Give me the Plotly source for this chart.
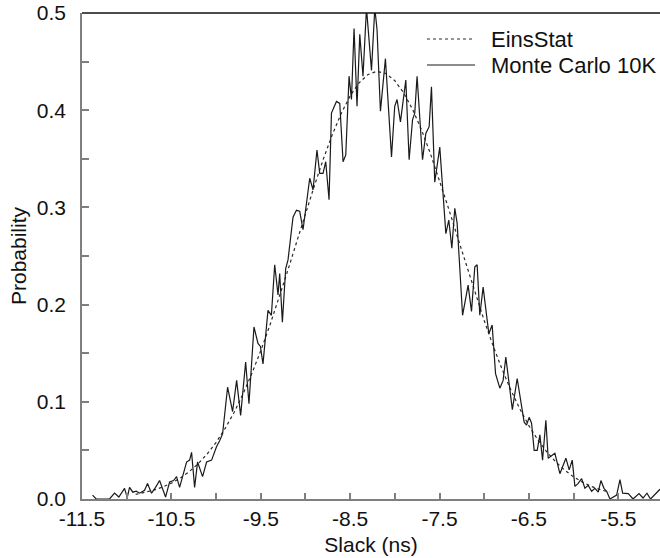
import plotly.graph_objects as go

# EinsStat (analytical) curve
eins_slack = [-10.9, -10.8, -10.7, -10.6, -10.5, -10.4, -10.3, -10.2, -10.1, -10.0,
              -9.9, -9.8, -9.7, -9.6, -9.5, -9.4, -9.3, -9.2, -9.1, -9.0,
              -8.9, -8.8, -8.7, -8.6, -8.5, -8.4, -8.3, -8.2, -8.1, -8.0,
              -7.9, -7.8, -7.7, -7.6, -7.5, -7.4, -7.3, -7.2, -7.1, -7.0,
              -6.9, -6.8, -6.7, -6.6, -6.5, -6.4, -6.3, -6.2, -6.1, -6.0,
              -5.9, -5.8, -5.7, -5.6]
eins_prob = [0.0047, 0.0066, 0.0090, 0.0122, 0.0163, 0.0216, 0.0282, 0.0363, 0.0463, 0.0582,
             0.0724, 0.0888, 0.1077, 0.1290, 0.1525, 0.1782, 0.2057, 0.2344, 0.2639, 0.2935,
             0.3223, 0.3497, 0.3747, 0.3966, 0.4147, 0.4282, 0.4367, 0.4400, 0.4378, 0.4303,
             0.4177, 0.4006, 0.3794, 0.3549, 0.3280, 0.2993, 0.2699, 0.2403, 0.2113, 0.1836,
             0.1575, 0.1335, 0.1118, 0.0924, 0.0755, 0.0609, 0.0485, 0.0382, 0.0297, 0.0228,
             0.0173, 0.0129, 0.0096, 0.0070]

# Monte Carlo 10K histogram
mc_slack = [-11.382, -11.341, -11.192, -11.136, -11.088, -11.024, -10.994, -10.968, -10.931, -10.893,
            -10.856, -10.800, -10.767, -10.722, -10.677, -10.632, -10.565, -10.520, -10.475, -10.442,
            -10.408, -10.375, -10.330, -10.296, -10.274, -10.240, -10.207, -10.151, -10.106, -10.050,
            -9.994, -9.960, -9.927, -9.871, -9.815, -9.770, -9.725, -9.669, -9.632, -9.576,
            -9.531, -9.504, -9.475, -9.419, -9.381, -9.344, -9.307, -9.288, -9.258, -9.221,
            -9.195, -9.139, -9.101, -9.064, -9.027, -8.952, -8.915, -8.871, -8.840, -8.803,
            -8.773, -8.736, -8.709, -8.653, -8.616, -8.579, -8.549, -8.512, -8.485, -8.456,
            -8.423, -8.392, -8.356, -8.317, -8.261, -8.224, -8.199, -8.161, -8.105, -8.037,
            -8.001, -7.975, -7.937, -7.877, -7.840, -7.802, -7.777, -7.751, -7.690, -7.653,
            -7.616, -7.590, -7.553, -7.497, -7.429, -7.396, -7.362, -7.329, -7.303, -7.242,
            -7.180, -7.142, -7.105, -7.079, -7.049, -7.012, -6.948, -6.911, -6.873, -6.825,
            -6.788, -6.758, -6.685, -6.631, -6.582, -6.553, -6.526, -6.497, -6.470, -6.441,
            -6.407, -6.377, -6.347, -6.310, -6.284, -6.246, -6.209, -6.153, -6.116, -6.086,
            -6.049, -6.015, -5.985, -5.948, -5.910, -5.873, -5.836, -5.798, -5.761, -5.724,
            -5.694, -5.660, -5.630, -5.593, -5.518, -5.481, -5.451, -5.388, -5.335, -5.268,
            -5.223, -5.179, -5.139, -5.078, -5.033]
mc_prob = [0.004, 0.000, 0.000, 0.006, 0.002, 0.011, 0.0014, 0.012, 0.007, 0.008,
           0.006, 0.009, 0.016, 0.006, 0.012, 0.019, 0.002, 0.0175, 0.019, 0.023,
           0.012, 0.024, 0.038, 0.040, 0.048, 0.012, 0.038, 0.023, 0.038, 0.040,
           0.054, 0.060, 0.067, 0.115, 0.090, 0.122, 0.086, 0.141, 0.098, 0.177,
           0.160, 0.157, 0.139, 0.194, 0.189, 0.241, 0.210, 0.232, 0.182, 0.237,
           0.246, 0.290, 0.297, 0.296, 0.277, 0.330, 0.318, 0.359, 0.335, 0.335,
           0.347, 0.308, 0.397, 0.409, 0.407, 0.347, 0.354, 0.435, 0.411, 0.484,
           0.404, 0.478, 0.435, 0.505, 0.441, 0.505, 0.483, 0.399, 0.453, 0.352,
           0.404, 0.411, 0.388, 0.431, 0.349, 0.390, 0.397, 0.435, 0.349, 0.376,
           0.383, 0.424, 0.326, 0.362, 0.273, 0.287, 0.258, 0.299, 0.284, 0.189,
           0.220, 0.193, 0.239, 0.241, 0.189, 0.218, 0.170, 0.179, 0.129, 0.114,
           0.122, 0.146, 0.092, 0.124, 0.093, 0.079, 0.076, 0.084, 0.078, 0.050,
           0.050, 0.066, 0.040, 0.081, 0.042, 0.045, 0.047, 0.026, 0.035, 0.042,
           0.030, 0.040, 0.013, 0.016, 0.021, 0.011, 0.014, 0.008, 0.011, 0.007,
           0.019, 0.011, 0.008, 0.000, 0.004, 0.020, 0.006, 0.0055, 0.000, 0.0055,
           0.001, 0.006, 0.000, 0.006, 0.010]

# Axis tick labels (hyphen-minus as in the original)
x_tick_vals = [-11.5, -10.5, -9.5, -8.5, -7.5, -6.5, -5.5]
x_tick_text = ["-11.5", "-10.5", "-9.5", "-8.5", "-7.5", "-6.5", "-5.5"]
y_tick_vals = [0.0, 0.1, 0.2, 0.3, 0.4, 0.5]
y_tick_text = ["0.0", "0.1", "0.2", "0.3", "0.4", "0.5"]

series_names = ["EinsStat", "Monte Carlo 10K"]

FONT = "Liberation Sans, Arial, Helvetica, sans-serif"
AXIS_GRAY = "#7f7f7f"
DOT_STYLE = dict(color="#2a2a2a", width=1.2, dash="dot")
SOLID_STYLE = dict(color="#1a1a1a", width=1.2)

fig = go.Figure()
fig.add_trace(go.Scatter(x=eins_slack, y=eins_prob, mode="lines", name=series_names[0],
                         line=DOT_STYLE, showlegend=False))
fig.add_trace(go.Scatter(x=mc_slack, y=mc_prob, mode="lines", name=series_names[1],
                         line=SOLID_STYLE, showlegend=False))

# Legend drawn in paper coordinates (plot area spans 82..660 px, 13..499 px)
leg_x0, leg_x1, leg_tx = 0.5969, 0.680, 0.704
leg_rows = [0.9465, 0.893]
shapes = [dict(type="line", xref="paper", yref="paper", x0=0, x1=1, y0=1, y1=1,
               line=dict(color="#111111", width=1.5))]
annotations = []
for name, style, yy in zip(series_names, [DOT_STYLE, SOLID_STYLE], leg_rows):
    shapes.append(dict(type="line", xref="paper", yref="paper", x0=leg_x0, x1=leg_x1,
                       y0=yy, y1=yy, line=style))
    annotations.append(dict(xref="paper", yref="paper", x=leg_tx, y=yy, text=name,
                            showarrow=False, xanchor="left", yanchor="middle",
                            font=dict(family=FONT, size=22, color="#111111")))

fig.update_layout(
    width=660, height=558,
    margin=dict(l=82, r=0, t=13, b=59, pad=0),
    plot_bgcolor="white", paper_bgcolor="white",
    font=dict(family=FONT, size=21, color="#111111"),
    showlegend=False,
    xaxis=dict(range=[-11.5, -5.033], tickmode="array", tickvals=x_tick_vals, ticktext=x_tick_text,
               ticks="inside", ticklen=6, tickwidth=1.5, tickcolor=AXIS_GRAY,
               minor=dict(tickmode="linear", tick0=-11.5, dtick=0.5, ticks="inside",
                          ticklen=6, tickwidth=1.5, tickcolor=AXIS_GRAY),
               showline=True, linecolor=AXIS_GRAY, linewidth=1.5,
               showgrid=False, zeroline=False,
               title=dict(text="Slack (ns)", font=dict(size=21), standoff=8)),
    yaxis=dict(range=[0, 0.5], tickmode="array", tickvals=y_tick_vals, ticktext=y_tick_text,
               ticks="inside", ticklen=7, tickwidth=1.5, tickcolor=AXIS_GRAY,
               minor=dict(tickmode="linear", tick0=0, dtick=0.05, ticks="inside",
                          ticklen=7, tickwidth=1.5, tickcolor=AXIS_GRAY),
               showline=True, linecolor=AXIS_GRAY, linewidth=1.5,
               showgrid=False, zeroline=False, ticklabelstandoff=10,
               title=dict(text="Probability", font=dict(size=21), standoff=4)),
    shapes=shapes,
    annotations=annotations,
)

fig.write_html("out.html")
